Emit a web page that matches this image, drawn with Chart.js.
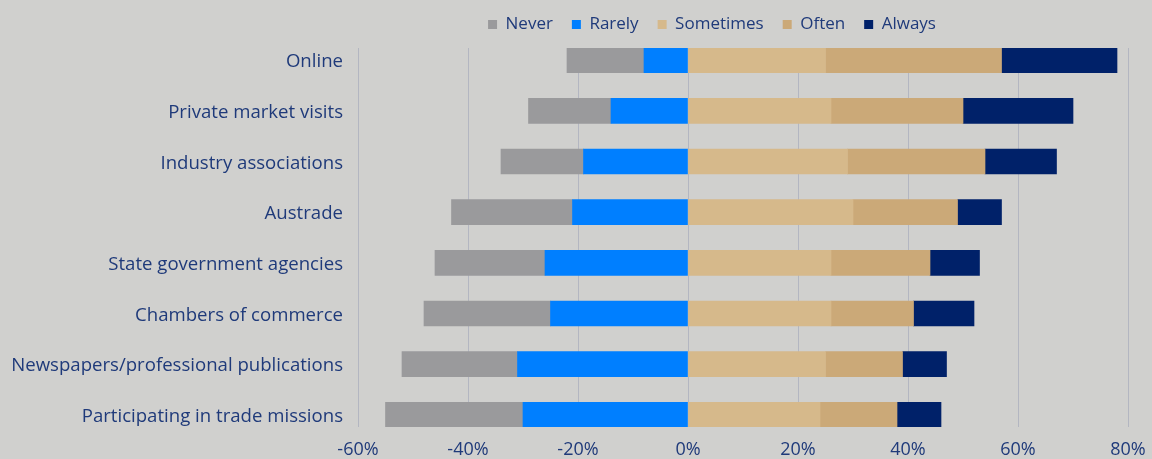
<!DOCTYPE html>
<html>
<head>
<meta charset="utf-8">
<script src="https://cdn.jsdelivr.net/npm/chart.js@4.4.1/dist/chart.umd.min.js"></script>
<style>
  html, body { margin: 0; padding: 0; background: #d0d0ce; }
  #wrap { width: 1152px; height: 459px; }
</style>
</head>
<body>
<div id="wrap"><canvas id="myChart" width="1152" height="459"></canvas></div>
<script>
const categories = [
    'Online',
    'Private market visits',
    'Industry associations',
    'Austrade',
    'State government agencies',
    'Chambers of commerce',
    'Newspapers/professional publications',
    'Participating in trade missions'
];

// percentages of respondents
const never = [14, 15, 15, 22, 20, 23, 21, 25];
const rarely = [8, 14, 19, 21, 26, 25, 31, 30];
const sometimes = [25, 26, 29, 30, 26, 26, 25, 24];
const often = [32, 24, 25, 19, 18, 15, 14, 14];
const always = [21, 20, 13, 8, 9, 11, 8, 8];

const xTicks = [-60, -40, -20, 0, 20, 40, 60, 80];
const legendOrder = ['Never', 'Rarely', 'Sometimes', 'Often', 'Always'];

const textColor = '#1f3a7a';
const fontFamily = "'Open Sans', sans-serif";

// rows sit on a numeric axis (0..7) so the plot edges hug the first and last bar
function toPoints(values, sign) {
    return values.map((v, i) => ({ x: sign * v, y: i }));
}

// negative side stacks outward from zero: rarely first, then never
const datasets = [
    { label: 'Rarely', data: toPoints(rarely, -1), backgroundColor: '#007fff' },
    { label: 'Never', data: toPoints(never, -1), backgroundColor: '#9a9a9c' },
    { label: 'Sometimes', data: toPoints(sometimes, 1), backgroundColor: '#d6b98b' },
    { label: 'Often', data: toPoints(often, 1), backgroundColor: '#cba978' },
    { label: 'Always', data: toPoints(always, 1), backgroundColor: '#002169' }
].map(ds => ({ ...ds, barThickness: 25, borderWidth: 0 }));

// nudge the legend so it sits over the middle of the bars and close to the top
const legendShift = {
    id: 'legendShift',
    afterLayout(chart) {
        const lg = chart.legend;
        if (!lg) return;
        const dx = 148, dy = -5;
        lg.left += dx;
        lg.right += dx;
        lg.top += dy;
        lg.bottom += dy;
    }
};

const ctx = document.getElementById('myChart').getContext('2d');

const chart = new Chart(ctx, {
    type: 'bar',
    data: { datasets },
    plugins: [legendShift],
    options: {
        indexAxis: 'y',
        responsive: false,
        animation: false,
        layout: {
            padding: { top: 2, left: 0, right: 24, bottom: 0 }
        },
        plugins: {
            tooltip: { enabled: false },
            legend: {
                position: 'top',
                labels: {
                    color: textColor,
                    font: { family: fontFamily, size: 17 },
                    boxWidth: 9,
                    boxHeight: 9,
                    padding: 19,
                    sort: (a, b) => legendOrder.indexOf(a.text) - legendOrder.indexOf(b.text)
                }
            }
        },
        scales: {
            x: {
                type: 'linear',
                stacked: true,
                min: -60,
                max: 80,
                afterBuildTicks: scale => {
                    scale.ticks = xTicks.map(v => ({ value: v }));
                },
                afterFit: scale => {
                    // end labels may hang past the plot edges
                    scale.height = 32;
                    scale.paddingLeft = 0;
                    scale.paddingRight = 0;
                },
                ticks: {
                    color: textColor,
                    font: { family: fontFamily, size: 18 },
                    padding: 12,
                    callback: v => v + '%'
                },
                grid: {
                    color: '#b3b6c1',
                    lineWidth: 1,
                    drawTicks: false
                },
                border: { display: false }
            },
            y: {
                type: 'linear',
                stacked: true,
                reverse: true,
                offset: false,
                min: -0.24,
                max: 7.24,
                afterBuildTicks: scale => {
                    scale.ticks = categories.map((c, i) => ({ value: i }));
                },
                afterFit: scale => {
                    scale.width = 358;
                },
                ticks: {
                    color: textColor,
                    font: { family: fontFamily, size: 18.6 },
                    padding: 15,
                    labelOffset: 2,
                    autoSkip: false,
                    callback: v => categories[v]
                },
                grid: { display: false, drawTicks: false, offset: false },
                border: { display: false }
            }
        }
    }
});
</script>
</body>
</html>
